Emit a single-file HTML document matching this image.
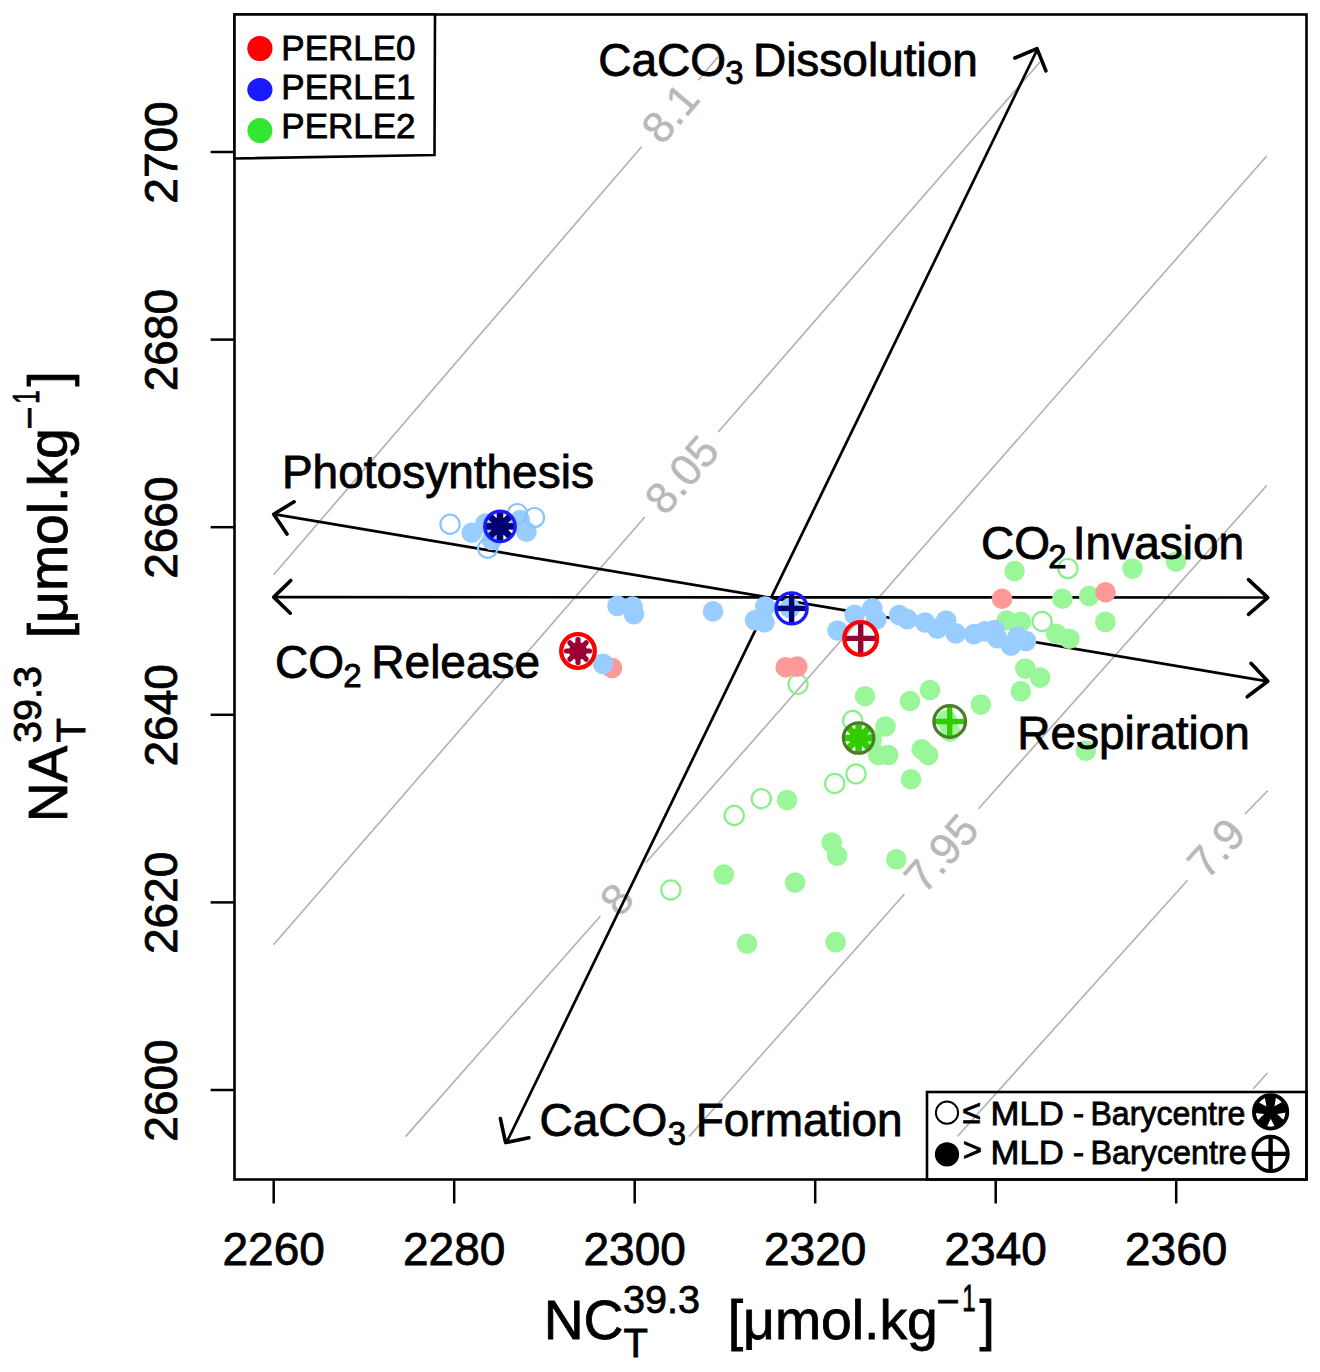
<!DOCTYPE html><html><head><meta charset="utf-8"><style>html,body{margin:0;padding:0;background:#fff;overflow:hidden;}svg{display:block;}text{font-family:"Liberation Sans", sans-serif;}</style></head><body>
<svg width="1320" height="1372" viewBox="0 0 1320 1372">
<rect width="1320" height="1372" fill="#fff"/>
<line x1="273.7" y1="574.8" x2="641.6" y2="146.7" stroke="#b0b0b0" stroke-width="1.6"/>
<line x1="698.2" y1="80.3" x2="718" y2="56.8" stroke="#b0b0b0" stroke-width="1.6"/>
<line x1="273.5" y1="944.7" x2="644.8" y2="517" stroke="#b0b0b0" stroke-width="1.6"/>
<line x1="718.2" y1="432.1" x2="1040" y2="62" stroke="#b0b0b0" stroke-width="1.6"/>
<line x1="405.5" y1="1136.6" x2="600.5" y2="916" stroke="#b0b0b0" stroke-width="1.6"/>
<line x1="645.8" y1="862.7" x2="1266.7" y2="156" stroke="#b0b0b0" stroke-width="1.6"/>
<line x1="689" y1="1136.6" x2="904.5" y2="894" stroke="#b0b0b0" stroke-width="1.6"/>
<line x1="978.5" y1="808.8" x2="1266.7" y2="485.5" stroke="#b0b0b0" stroke-width="1.6"/>
<line x1="957.6" y1="1136.3" x2="1187.5" y2="880.2" stroke="#b0b0b0" stroke-width="1.6"/>
<line x1="1245" y1="814" x2="1267.7" y2="790.7" stroke="#b0b0b0" stroke-width="1.6"/>
<line x1="1253" y1="1089" x2="1267.5" y2="1073" stroke="#b0b0b0" stroke-width="1.6"/>
<text x="0" y="0" transform="translate(670,113) rotate(-49.5)" font-size="44" fill="#b8b8b8" stroke="#b8b8b8" stroke-width="0.4" text-anchor="middle" dominant-baseline="central">8.1</text>
<text x="0" y="0" transform="translate(681.5,474.5) rotate(-49)" font-size="44" fill="#b8b8b8" stroke="#b8b8b8" stroke-width="0.4" text-anchor="middle" dominant-baseline="central">8.05</text>
<text x="0" y="0" transform="translate(616.5,899) rotate(-48.5)" font-size="44" fill="#b8b8b8" stroke="#b8b8b8" stroke-width="0.4" text-anchor="middle" dominant-baseline="central">8</text>
<text x="0" y="0" transform="translate(941,853) rotate(-48.3)" font-size="44" fill="#b8b8b8" stroke="#b8b8b8" stroke-width="0.4" text-anchor="middle" dominant-baseline="central">7.95</text>
<text x="0" y="0" transform="translate(1216,848) rotate(-48)" font-size="44" fill="#b8b8b8" stroke="#b8b8b8" stroke-width="0.4" text-anchor="middle" dominant-baseline="central">7.9</text>
<line x1="273.7" y1="514.2" x2="1267.8" y2="681.3" stroke="#000" stroke-width="2.7"/>
<line x1="273.7" y1="597.2" x2="1267.8" y2="597.5" stroke="#000" stroke-width="2.7"/>
<line x1="506.5" y1="1142.6" x2="1037.7" y2="48.7" stroke="#000" stroke-width="2.7"/>
<polyline points="294.1,501.8 273.7,514.2 287,534.1" fill="none" stroke="#000" stroke-width="3.6" stroke-linecap="round" stroke-linejoin="round"/>
<polyline points="290.8,580.5 273.7,597.1 290.3,613.2" fill="none" stroke="#000" stroke-width="3.6" stroke-linecap="round" stroke-linejoin="round"/>
<polyline points="1248.5,579.6 1267.8,597.6 1248.5,614.3" fill="none" stroke="#000" stroke-width="3.6" stroke-linecap="round" stroke-linejoin="round"/>
<polyline points="1251,663.3 1267.8,681.3 1247.2,696.8" fill="none" stroke="#000" stroke-width="3.6" stroke-linecap="round" stroke-linejoin="round"/>
<polyline points="1014.9,58 1037,48.7 1045.9,70.9" fill="none" stroke="#000" stroke-width="3.6" stroke-linecap="round" stroke-linejoin="round"/>
<polyline points="500.4,1118.6 505.6,1142.6 528.9,1137.8" fill="none" stroke="#000" stroke-width="3.6" stroke-linecap="round" stroke-linejoin="round"/>
<circle cx="798" cy="684.3" r="9.6" fill="none" stroke="#88f088" stroke-width="2.2"/>
<circle cx="852.7" cy="720.5" r="9.6" fill="none" stroke="#88f088" stroke-width="2.2"/>
<circle cx="856" cy="773.9" r="9.6" fill="none" stroke="#88f088" stroke-width="2.2"/>
<circle cx="834.7" cy="783.5" r="9.6" fill="none" stroke="#88f088" stroke-width="2.2"/>
<circle cx="761.3" cy="798.7" r="9.6" fill="none" stroke="#88f088" stroke-width="2.2"/>
<circle cx="734.2" cy="815.5" r="9.6" fill="none" stroke="#88f088" stroke-width="2.2"/>
<circle cx="670.8" cy="890" r="9.6" fill="none" stroke="#88f088" stroke-width="2.2"/>
<circle cx="1067.9" cy="568.6" r="9.6" fill="none" stroke="#88f088" stroke-width="2.2"/>
<circle cx="1042.1" cy="621.5" r="9.6" fill="none" stroke="#88f088" stroke-width="2.2"/>
<circle cx="865" cy="696.3" r="10.3" fill="#99f799"/>
<circle cx="910" cy="701" r="10.3" fill="#99f799"/>
<circle cx="930" cy="690" r="10.3" fill="#99f799"/>
<circle cx="980.8" cy="704.6" r="10.3" fill="#99f799"/>
<circle cx="885.5" cy="726.5" r="10.3" fill="#99f799"/>
<circle cx="871.7" cy="740" r="10.3" fill="#99f799"/>
<circle cx="878.3" cy="755" r="10.3" fill="#99f799"/>
<circle cx="888.3" cy="755" r="10.3" fill="#99f799"/>
<circle cx="921.7" cy="749.2" r="10.3" fill="#99f799"/>
<circle cx="928.2" cy="755" r="10.3" fill="#99f799"/>
<circle cx="946.7" cy="720" r="10.3" fill="#99f799"/>
<circle cx="950" cy="731.7" r="10.3" fill="#99f799"/>
<circle cx="911" cy="779.2" r="10.3" fill="#99f799"/>
<circle cx="1085.8" cy="750.8" r="10.3" fill="#99f799"/>
<circle cx="1025.3" cy="668.6" r="10.3" fill="#99f799"/>
<circle cx="1040.1" cy="677.6" r="10.3" fill="#99f799"/>
<circle cx="1020.8" cy="691.4" r="10.3" fill="#99f799"/>
<circle cx="787" cy="800" r="10.3" fill="#99f799"/>
<circle cx="831.7" cy="842.6" r="10.3" fill="#99f799"/>
<circle cx="837.1" cy="855.8" r="10.3" fill="#99f799"/>
<circle cx="896.3" cy="859.4" r="10.3" fill="#99f799"/>
<circle cx="723.9" cy="874.6" r="10.3" fill="#99f799"/>
<circle cx="795.1" cy="882.6" r="10.3" fill="#99f799"/>
<circle cx="747" cy="943.7" r="10.3" fill="#99f799"/>
<circle cx="835.6" cy="942.1" r="10.3" fill="#99f799"/>
<circle cx="1014.5" cy="571" r="10.3" fill="#99f799"/>
<circle cx="1132.5" cy="568.6" r="10.3" fill="#99f799"/>
<circle cx="1176" cy="561.6" r="10.3" fill="#99f799"/>
<circle cx="1062.4" cy="598.7" r="10.3" fill="#99f799"/>
<circle cx="1089.2" cy="596" r="10.3" fill="#99f799"/>
<circle cx="1105.4" cy="621.9" r="10.3" fill="#99f799"/>
<circle cx="1006.6" cy="620.5" r="10.3" fill="#99f799"/>
<circle cx="1020.9" cy="621.9" r="10.3" fill="#99f799"/>
<circle cx="1056.2" cy="633.8" r="10.3" fill="#99f799"/>
<circle cx="1069.3" cy="638.8" r="10.3" fill="#99f799"/>
<circle cx="612" cy="668" r="10.3" fill="#ff9999"/>
<circle cx="785.7" cy="667.3" r="10.3" fill="#ff9999"/>
<circle cx="797.3" cy="666.6" r="10.3" fill="#ff9999"/>
<circle cx="1002" cy="598.8" r="10.3" fill="#ff9999"/>
<circle cx="1105.5" cy="592.2" r="10.3" fill="#ff9999"/>
<circle cx="471.8" cy="532.7" r="10.3" fill="#99ccff"/>
<circle cx="485.5" cy="523.6" r="10.3" fill="#99ccff"/>
<circle cx="491.8" cy="540" r="10.3" fill="#99ccff"/>
<circle cx="520" cy="520" r="10.3" fill="#99ccff"/>
<circle cx="526.4" cy="531.8" r="10.3" fill="#99ccff"/>
<circle cx="617.5" cy="605.9" r="10.3" fill="#99ccff"/>
<circle cx="632.5" cy="606.6" r="10.3" fill="#99ccff"/>
<circle cx="633.9" cy="614.1" r="10.3" fill="#99ccff"/>
<circle cx="713" cy="611.4" r="10.3" fill="#99ccff"/>
<circle cx="765.2" cy="606.6" r="10.3" fill="#99ccff"/>
<circle cx="755" cy="620.2" r="10.3" fill="#99ccff"/>
<circle cx="764.5" cy="622.3" r="10.3" fill="#99ccff"/>
<circle cx="790" cy="608" r="10.3" fill="#99ccff"/>
<circle cx="837.5" cy="630.5" r="10.3" fill="#99ccff"/>
<circle cx="854.6" cy="614.8" r="10.3" fill="#99ccff"/>
<circle cx="872.3" cy="608.6" r="10.3" fill="#99ccff"/>
<circle cx="876.4" cy="619.6" r="10.3" fill="#99ccff"/>
<circle cx="899.1" cy="615" r="10.3" fill="#99ccff"/>
<circle cx="907.3" cy="619.1" r="10.3" fill="#99ccff"/>
<circle cx="925" cy="622.5" r="10.3" fill="#99ccff"/>
<circle cx="937.3" cy="628.6" r="10.3" fill="#99ccff"/>
<circle cx="946.2" cy="620.5" r="10.3" fill="#99ccff"/>
<circle cx="955.7" cy="633.4" r="10.3" fill="#99ccff"/>
<circle cx="974.1" cy="634.1" r="10.3" fill="#99ccff"/>
<circle cx="985" cy="631.4" r="10.3" fill="#99ccff"/>
<circle cx="994.6" cy="630" r="10.3" fill="#99ccff"/>
<circle cx="997.3" cy="638.2" r="10.3" fill="#99ccff"/>
<circle cx="1011" cy="645.7" r="10.3" fill="#99ccff"/>
<circle cx="1017.8" cy="636.8" r="10.3" fill="#99ccff"/>
<circle cx="1026" cy="641" r="10.3" fill="#99ccff"/>
<circle cx="603" cy="663.9" r="10.3" fill="#99ccff"/>
<circle cx="450" cy="524.2" r="9.6" fill="none" stroke="#88c4ff" stroke-width="2.2"/>
<circle cx="517.3" cy="513.6" r="9.6" fill="none" stroke="#88c4ff" stroke-width="2.2"/>
<circle cx="534.5" cy="517.6" r="9.6" fill="none" stroke="#88c4ff" stroke-width="2.2"/>
<circle cx="487.6" cy="548.2" r="9.6" fill="none" stroke="#88c4ff" stroke-width="2.2"/>
<g transform="translate(500,526.4)"><circle r="9.3" fill="#000070"/><line x1="0" y1="0" x2="14.50" y2="0.00" stroke="#000070" stroke-width="6.6" stroke-linecap="butt"/><line x1="0" y1="0" x2="10.25" y2="10.25" stroke="#000070" stroke-width="6.6" stroke-linecap="butt"/><line x1="0" y1="0" x2="0.00" y2="14.50" stroke="#000070" stroke-width="6.6" stroke-linecap="butt"/><line x1="0" y1="0" x2="-10.25" y2="10.25" stroke="#000070" stroke-width="6.6" stroke-linecap="butt"/><line x1="0" y1="0" x2="-14.50" y2="0.00" stroke="#000070" stroke-width="6.6" stroke-linecap="butt"/><line x1="0" y1="0" x2="-10.25" y2="-10.25" stroke="#000070" stroke-width="6.6" stroke-linecap="butt"/><line x1="0" y1="0" x2="-0.00" y2="-14.50" stroke="#000070" stroke-width="6.6" stroke-linecap="butt"/><line x1="0" y1="0" x2="10.25" y2="-10.25" stroke="#000070" stroke-width="6.6" stroke-linecap="butt"/><circle r="15.2" fill="none" stroke="#1a1aff" stroke-width="3.4"/></g>
<g transform="translate(578,651)"><circle r="9" fill="#990033"/><line x1="0" y1="0" x2="11.50" y2="0.00" stroke="#990033" stroke-width="5.2" stroke-linecap="round"/><line x1="0" y1="0" x2="8.13" y2="8.13" stroke="#990033" stroke-width="5.2" stroke-linecap="round"/><line x1="0" y1="0" x2="0.00" y2="11.50" stroke="#990033" stroke-width="5.2" stroke-linecap="round"/><line x1="0" y1="0" x2="-8.13" y2="8.13" stroke="#990033" stroke-width="5.2" stroke-linecap="round"/><line x1="0" y1="0" x2="-11.50" y2="0.00" stroke="#990033" stroke-width="5.2" stroke-linecap="round"/><line x1="0" y1="0" x2="-8.13" y2="-8.13" stroke="#990033" stroke-width="5.2" stroke-linecap="round"/><line x1="0" y1="0" x2="-0.00" y2="-11.50" stroke="#990033" stroke-width="5.2" stroke-linecap="round"/><line x1="0" y1="0" x2="8.13" y2="-8.13" stroke="#990033" stroke-width="5.2" stroke-linecap="round"/><circle r="16.8" fill="none" stroke="#ff0000" stroke-width="4.3"/></g>
<g transform="translate(858.6,738)"><circle r="9.3" fill="#33cc00"/><line x1="0" y1="0" x2="14.50" y2="0.00" stroke="#33cc00" stroke-width="6.6" stroke-linecap="butt"/><line x1="0" y1="0" x2="10.25" y2="10.25" stroke="#33cc00" stroke-width="6.6" stroke-linecap="butt"/><line x1="0" y1="0" x2="0.00" y2="14.50" stroke="#33cc00" stroke-width="6.6" stroke-linecap="butt"/><line x1="0" y1="0" x2="-10.25" y2="10.25" stroke="#33cc00" stroke-width="6.6" stroke-linecap="butt"/><line x1="0" y1="0" x2="-14.50" y2="0.00" stroke="#33cc00" stroke-width="6.6" stroke-linecap="butt"/><line x1="0" y1="0" x2="-10.25" y2="-10.25" stroke="#33cc00" stroke-width="6.6" stroke-linecap="butt"/><line x1="0" y1="0" x2="-0.00" y2="-14.50" stroke="#33cc00" stroke-width="6.6" stroke-linecap="butt"/><line x1="0" y1="0" x2="10.25" y2="-10.25" stroke="#33cc00" stroke-width="6.6" stroke-linecap="butt"/><circle r="15.2" fill="none" stroke="#4f7a2a" stroke-width="3.3"/></g>
<g transform="translate(791.6,608.4)"><line x1="-15.5" y1="0" x2="15.5" y2="0" stroke="#000070" stroke-width="5.4"/><line x1="0" y1="-15.5" x2="0" y2="15.5" stroke="#000070" stroke-width="5.4"/><circle r="15.5" fill="none" stroke="#1a1aff" stroke-width="3.4"/></g>
<g transform="translate(860.7,638.4)"><line x1="-16.4" y1="0" x2="16.4" y2="0" stroke="#990033" stroke-width="5.4"/><line x1="0" y1="-16.4" x2="0" y2="16.4" stroke="#990033" stroke-width="5.4"/><circle r="16.4" fill="none" stroke="#ff0000" stroke-width="4.2"/></g>
<g transform="translate(949.7,721.5)"><line x1="-15.8" y1="0" x2="15.8" y2="0" stroke="#33cc00" stroke-width="5.4"/><line x1="0" y1="-15.8" x2="0" y2="15.8" stroke="#33cc00" stroke-width="5.4"/><circle r="15.8" fill="none" stroke="#4f7a2a" stroke-width="3.3"/></g>
<text x="598.26" y="76.20" font-size="46" fill="#000" stroke="#000" stroke-width="0.8">CaCO</text>
<text x="725.14" y="83.80" font-size="33" fill="#000" stroke="#000" stroke-width="0.8">3</text>
<text x="752.93" y="76.20" font-size="46" fill="#000" stroke="#000" stroke-width="0.8">Dissolution</text>
<text x="281.93" y="488.40" font-size="46" fill="#000" stroke="#000" stroke-width="0.8">Photosynthesis</text>
<text x="275.06" y="678.30" font-size="46" fill="#000" stroke="#000" stroke-width="0.8">CO</text>
<text x="343.34" y="686.70" font-size="33" fill="#000" stroke="#000" stroke-width="0.8">2</text>
<text x="371.33" y="678.30" font-size="46" fill="#000" stroke="#000" stroke-width="0.8">Release</text>
<text x="980.96" y="559.00" font-size="46" fill="#000" stroke="#000" stroke-width="0.8">CO</text>
<text x="1048.34" y="568.00" font-size="33" fill="#000" stroke="#000" stroke-width="0.8">2</text>
<text x="1072.85" y="559.00" font-size="46" fill="#000" stroke="#000" stroke-width="0.8">Invasion</text>
<text x="1017.23" y="748.60" font-size="46" fill="#000" stroke="#000" stroke-width="0.8">Respiration</text>
<text x="539.46" y="1135.90" font-size="46" fill="#000" stroke="#000" stroke-width="0.8">CaCO</text>
<text x="667.84" y="1145.00" font-size="33" fill="#000" stroke="#000" stroke-width="0.8">3</text>
<text x="695.63" y="1135.90" font-size="46" fill="#000" stroke="#000" stroke-width="0.8">Formation</text>
<rect x="234.5" y="14.5" width="1072" height="1165" fill="none" stroke="#000" stroke-width="2.6"/>
<line x1="273.7" y1="1179.5" x2="273.7" y2="1203.5" stroke="#000" stroke-width="2.5"/>
<text x="273.7" y="1265" font-size="46" stroke="#000" stroke-width="0.8" text-anchor="middle">2260</text>
<line x1="454.2" y1="1179.5" x2="454.2" y2="1203.5" stroke="#000" stroke-width="2.5"/>
<text x="454.2" y="1265" font-size="46" stroke="#000" stroke-width="0.8" text-anchor="middle">2280</text>
<line x1="634.7" y1="1179.5" x2="634.7" y2="1203.5" stroke="#000" stroke-width="2.5"/>
<text x="634.7" y="1265" font-size="46" stroke="#000" stroke-width="0.8" text-anchor="middle">2300</text>
<line x1="815.2" y1="1179.5" x2="815.2" y2="1203.5" stroke="#000" stroke-width="2.5"/>
<text x="815.2" y="1265" font-size="46" stroke="#000" stroke-width="0.8" text-anchor="middle">2320</text>
<line x1="995.7" y1="1179.5" x2="995.7" y2="1203.5" stroke="#000" stroke-width="2.5"/>
<text x="995.7" y="1265" font-size="46" stroke="#000" stroke-width="0.8" text-anchor="middle">2340</text>
<line x1="1176.2" y1="1179.5" x2="1176.2" y2="1203.5" stroke="#000" stroke-width="2.5"/>
<text x="1176.2" y="1265" font-size="46" stroke="#000" stroke-width="0.8" text-anchor="middle">2360</text>
<line x1="210.6" y1="1090.0" x2="234.5" y2="1090.0" stroke="#000" stroke-width="2.5"/>
<text x="0" y="0" transform="translate(177.3,1090.5) rotate(-90)" font-size="46" stroke="#000" stroke-width="0.8" text-anchor="middle">2600</text>
<line x1="210.6" y1="902.4" x2="234.5" y2="902.4" stroke="#000" stroke-width="2.5"/>
<text x="0" y="0" transform="translate(177.3,902.9) rotate(-90)" font-size="46" stroke="#000" stroke-width="0.8" text-anchor="middle">2620</text>
<line x1="210.6" y1="714.8" x2="234.5" y2="714.8" stroke="#000" stroke-width="2.5"/>
<text x="0" y="0" transform="translate(177.3,715.3) rotate(-90)" font-size="46" stroke="#000" stroke-width="0.8" text-anchor="middle">2640</text>
<line x1="210.6" y1="527.2" x2="234.5" y2="527.2" stroke="#000" stroke-width="2.5"/>
<text x="0" y="0" transform="translate(177.3,527.7) rotate(-90)" font-size="46" stroke="#000" stroke-width="0.8" text-anchor="middle">2660</text>
<line x1="210.6" y1="339.6" x2="234.5" y2="339.6" stroke="#000" stroke-width="2.5"/>
<text x="0" y="0" transform="translate(177.3,340.1) rotate(-90)" font-size="46" stroke="#000" stroke-width="0.8" text-anchor="middle">2680</text>
<line x1="210.6" y1="152.0" x2="234.5" y2="152.0" stroke="#000" stroke-width="2.5"/>
<text x="0" y="0" transform="translate(177.3,152.5) rotate(-90)" font-size="46" stroke="#000" stroke-width="0.8" text-anchor="middle">2700</text>
<g transform="translate(548.2,1339.2)"><text x="-4.54" y="0" font-size="55.3" stroke="#000" stroke-width="0.8">NC</text><text x="75.20" y="18" font-size="40" stroke="#000" stroke-width="0.8">T</text><text x="74.80" y="-26.4" font-size="39.5" stroke="#000" stroke-width="0.8">39.3</text><text x="179.56" y="0" font-size="55.3" stroke="#000" stroke-width="0.8">[μmol.kg</text><text x="388.35" y="-24.600000000000136" font-size="39.5" stroke="#000" stroke-width="0.8">−</text><text x="0" y="0" transform="translate(413.97,-28.200000000000045) scale(0.65,1)" font-size="37" stroke="#000" stroke-width="0.8">1</text><text x="431.27" y="0" font-size="55.3" stroke="#000" stroke-width="0.8">]</text></g>
<g transform="translate(67.4,817.8) rotate(-90)"><text x="-4.54" y="0" font-size="55.3" stroke="#000" stroke-width="0.8">NA</text><text x="75.20" y="18" font-size="40" stroke="#000" stroke-width="0.8">T</text><text x="74.80" y="-26.4" font-size="39.5" stroke="#000" stroke-width="0.8">39.3</text><text x="179.56" y="0" font-size="55.3" stroke="#000" stroke-width="0.8">[μmol.kg</text><text x="388.35" y="-24.600000000000136" font-size="39.5" stroke="#000" stroke-width="0.8">−</text><text x="0" y="0" transform="translate(413.97,-28.200000000000045) scale(0.65,1)" font-size="37" stroke="#000" stroke-width="0.8">1</text><text x="431.27" y="0" font-size="55.3" stroke="#000" stroke-width="0.8">]</text></g>
<polygon points="234.5,14.5 435,14.5 434.5,155 234.5,158.5" fill="#fff" stroke="#000" stroke-width="2.6"/>
<circle cx="259.9" cy="48.5" r="12.6" fill="#ff0000"/>
<ellipse cx="259.9" cy="89.7" rx="12.6" ry="11.6" fill="#1a1aff"/>
<circle cx="259.9" cy="130.6" r="12.5" fill="#33e633"/>
<text x="281.33" y="60.20" font-size="35" fill="#000" stroke="#000" stroke-width="0.8">PERLE0</text>
<text x="281.33" y="98.80" font-size="35" fill="#000" stroke="#000" stroke-width="0.8">PERLE1</text>
<text x="281.33" y="138.20" font-size="35" fill="#000" stroke="#000" stroke-width="0.8">PERLE2</text>
<rect x="927" y="1092" width="379.5" height="87.5" fill="none" stroke="#000" stroke-width="2.6"/>
<circle cx="947" cy="1112.7" r="11.1" fill="none" stroke="#000" stroke-width="2"/>
<circle cx="947" cy="1154.4" r="12.1" fill="#000"/>
<text x="962.58" y="1123.30" font-size="33" fill="#000" stroke="#000" stroke-width="0.8">≤</text>
<text x="0" y="0" transform="translate(990.49,1124.80) scale(1.0537,1)" font-size="33" fill="#000" stroke="#000" stroke-width="0.8">MLD</text>
<text x="0" y="0" transform="translate(1072.73,1124.80) scale(1.0426,1)" font-size="33" fill="#000" stroke="#000" stroke-width="0.8">-</text>
<text x="0" y="0" transform="translate(1090.49,1124.80) scale(0.9717,1)" font-size="33" fill="#000" stroke="#000" stroke-width="0.8">Barycentre</text>
<text x="962.77" y="1160.50" font-size="33" fill="#000" stroke="#000" stroke-width="0.8">&gt;</text>
<text x="0" y="0" transform="translate(990.49,1164.20) scale(1.0537,1)" font-size="33" fill="#000" stroke="#000" stroke-width="0.8">MLD</text>
<text x="0" y="0" transform="translate(1072.73,1164.20) scale(1.0426,1)" font-size="33" fill="#000" stroke="#000" stroke-width="0.8">-</text>
<text x="0" y="0" transform="translate(1090.49,1164.20) scale(0.9788,1)" font-size="33" fill="#000" stroke="#000" stroke-width="0.8">Barycentre</text>
<g transform="translate(1270.6,1111.9)"><circle r="16.7" fill="#000"/><polygon points="3.90,-5.57 5.34,-14.66 11.95,-10.03" fill="#fff"/><polygon points="6.50,1.99 15.59,0.54 13.23,8.27" fill="#fff"/><polygon points="0.12,6.80 4.30,15.00 -3.77,15.14" fill="#fff"/><polygon points="-6.43,2.21 -12.93,8.72 -15.56,1.09" fill="#fff"/><polygon points="-4.09,-5.43 -12.29,-9.60 -5.84,-14.46" fill="#fff"/><circle r="16.7" fill="none" stroke="#000" stroke-width="3.8"/></g>
<g transform="translate(1270.6,1153.9)"><line x1="-17" y1="0" x2="17" y2="0" stroke="#000" stroke-width="4.4"/><line x1="0" y1="-17" x2="0" y2="17" stroke="#000" stroke-width="4.4"/><circle r="17.2" fill="none" stroke="#000" stroke-width="3.8"/></g>
</svg></body></html>
